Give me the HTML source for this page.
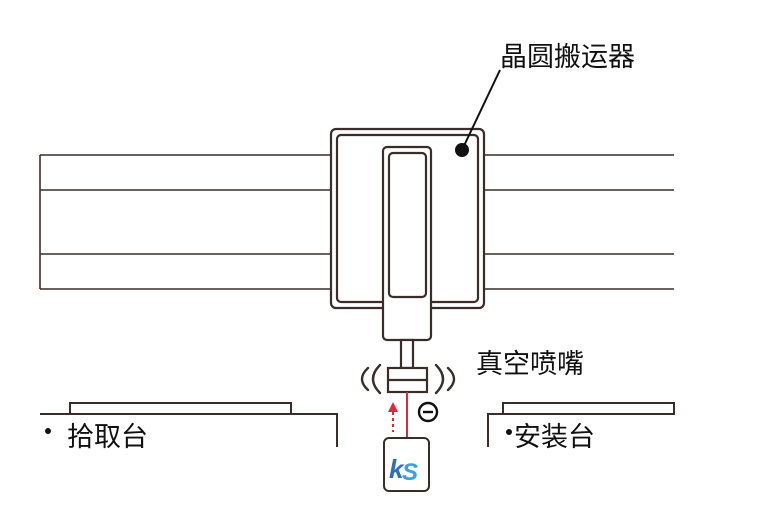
<!DOCTYPE html>
<html><head><meta charset="utf-8"><style>
body{margin:0;width:768px;height:512px;background:#fff;overflow:hidden}
svg{position:absolute;left:0;top:0}
text{font-family:"Liberation Sans","Noto Sans CJK SC",sans-serif;fill:#111}
</style></head><body>
<svg width="768" height="512" viewBox="0 0 768 512">
<g stroke="#3a2d28" stroke-width="1.6" fill="none">
<line x1="40" y1="155" x2="331" y2="155"/><line x1="40" y1="190" x2="331" y2="190"/>
<line x1="40" y1="254" x2="331" y2="254"/><line x1="40" y1="289" x2="331" y2="289"/>
<line x1="40" y1="155" x2="40" y2="289"/>
<line x1="484" y1="155" x2="674" y2="155"/><line x1="484" y1="190" x2="674" y2="190"/>
<line x1="484" y1="254" x2="674" y2="254"/><line x1="484" y1="289" x2="674" y2="289"/>
</g>
<g stroke="#3a2d28" stroke-width="2.2" fill="#fff">
<rect x="331" y="129" width="153" height="179" rx="5"/>
<rect x="337" y="135" width="141" height="167" rx="4"/>
<rect x="383" y="147" width="48" height="193" rx="4"/>
<rect x="389" y="153" width="37" height="144" rx="4"/>
<rect x="401" y="340" width="12" height="28"/>
<rect x="388" y="368" width="39" height="24"/>
<line x1="388" y1="380" x2="427" y2="380"/>
</g>
<g stroke="#3a2d28" stroke-width="2.4" fill="none" stroke-linecap="round">
<path d="M368 368 Q356 379 368 390"/><path d="M380 365 Q366 379 380 393"/>
<path d="M436 365 Q450 379 436 393"/><path d="M448 368 Q460 379 448 390"/>
</g>
<line x1="407" y1="392" x2="407" y2="438" stroke="#e0283c" stroke-width="2"/>
<line x1="393" y1="412" x2="393" y2="432" stroke="#e0283c" stroke-width="2" stroke-dasharray="3,3"/>
<polygon points="393,402 388,412 398,412" fill="#e0283c"/>
<circle cx="428" cy="412" r="9" fill="none" stroke="#111" stroke-width="2.4"/>
<line x1="423" y1="412" x2="433" y2="412" stroke="#111" stroke-width="2.4"/>
<rect x="384" y="438" width="45" height="53" rx="5" fill="#fff" stroke="#3a2d28" stroke-width="2"/>
<text x="389" y="478" style="font-style:italic;font-weight:bold;font-size:26px;fill:#2a6fc0">k</text>
<text x="402" y="480" style="font-style:italic;font-weight:bold;font-size:24px;fill:#3aa0e0">S</text>
<g stroke="#3a2d28" stroke-width="2" fill="none">
<rect x="70" y="403" width="221" height="11"/>
<polyline points="40,414 337,414 337,447"/>
<rect x="503" y="403" width="171" height="11"/>
<polyline points="674,414 488,414 488,447"/>
</g>
<line x1="500" y1="70" x2="462" y2="150" stroke="#111" stroke-width="2"/>
<circle cx="462" cy="150" r="7" fill="#111"/>
<circle cx="48" cy="431" r="3" fill="#111"/>
<text x="67" y="446" font-size="27">拾取台</text>
<circle cx="509" cy="432" r="3" fill="#111"/>
<text x="514" y="446" font-size="27">安装台</text>
<text x="500" y="66" font-size="27">晶圆搬运器</text>
<text x="476" y="373" font-size="27">真空喷嘴</text>
</svg>
</body></html>
